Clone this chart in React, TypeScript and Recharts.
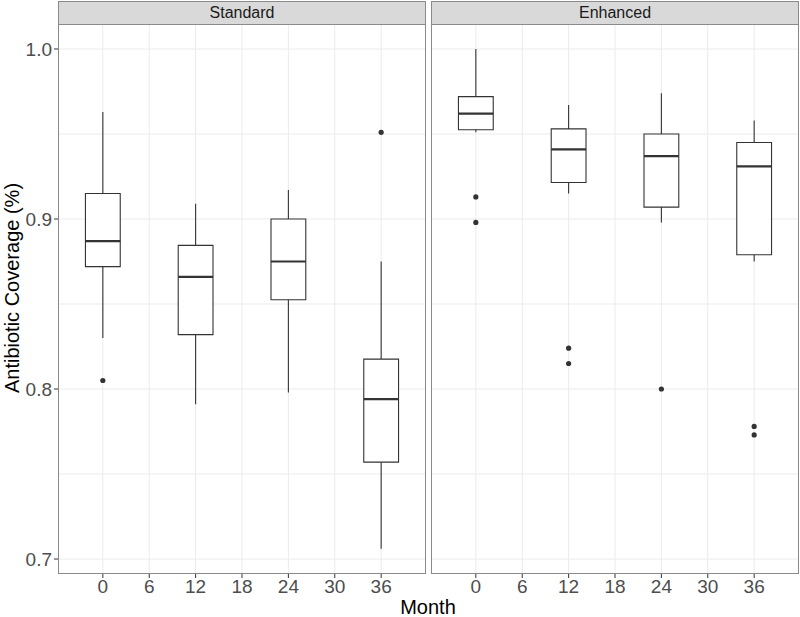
import React from 'react';
import {
  ComposedChart,
  Scatter,
  XAxis,
  YAxis,
  CartesianGrid,
  ReferenceArea,
  ReferenceLine,
} from 'recharts';

// months where boxes sit, and axis ticks
const months = [0, 12, 24, 36];
const monthTicks = [0, 6, 12, 18, 24, 30, 36];
const coverageTicks = [0.7, 0.8, 0.9, 1.0];
const coverageGrid = [0.7, 0.75, 0.8, 0.85, 0.9, 0.95, 1.0];

// Standard arm: whisker ends, quartiles, median
const standardLow = [0.830, 0.791, 0.798, 0.706];
const standardQ1 = [0.872, 0.832, 0.8525, 0.757];
const standardMedian = [0.887, 0.866, 0.875, 0.794];
const standardQ3 = [0.915, 0.8845, 0.9, 0.8176];
const standardHigh = [0.963, 0.909, 0.917, 0.875];
const standardOutliers: [number, number][] = [
  [0, 0.805],
  [36, 0.951],
];

// Enhanced arm
const enhancedLow = [0.951, 0.915, 0.898, 0.875];
const enhancedQ1 = [0.9525, 0.9215, 0.907, 0.879];
const enhancedMedian = [0.962, 0.941, 0.937, 0.931];
const enhancedQ3 = [0.972, 0.953, 0.95, 0.945];
const enhancedHigh = [1.0, 0.967, 0.974, 0.958];
const enhancedOutliers: [number, number][] = [
  [0, 0.913],
  [0, 0.898],
  [12, 0.824],
  [12, 0.815],
  [24, 0.8],
  [36, 0.778],
  [36, 0.773],
];

const FONT = '"Liberation Sans", Arial, Helvetica, sans-serif';
const INK = '#333333';
const BOX_HALF = 2.25;
const X_DOMAIN: [number, number] = [-5.8, 41.8];
const Y_DOMAIN: [number, number] = [0.6912, 1.0147];

const PLOT_TOP = 24;
const PLOT_H = 550;

type PanelProps = {
  title: string;
  left: number;
  showY: boolean;
  low: number[];
  q1: number[];
  median: number[];
  q3: number[];
  high: number[];
  outliers: [number, number][];
};

const Panel = ({ title, left, showY, low, q1, median, q3, high, outliers }: PanelProps) => {
  const yW = showY ? 58 : 0;
  const plotW = 368;
  const width = yW + plotW + 1;
  const pts = outliers.map(([month, value]) => ({ month, value }));

  return (
    <div style={{ position: 'absolute', left, top: 0, width, height: 617 }}>
      <ComposedChart
        width={width}
        height={617}
        data={pts}
        margin={{ top: PLOT_TOP, right: 1, bottom: 0, left: 0 }}
      >
        <CartesianGrid
          stroke="#ebebeb"
          strokeWidth={1}
          horizontalValues={coverageGrid}
          verticalValues={monthTicks}
        />
        <XAxis
          type="number"
          dataKey="month"
          domain={X_DOMAIN}
          ticks={monthTicks}
          allowDataOverflow
          height={617 - PLOT_TOP - PLOT_H}
          axisLine={false}
          tickSize={4}
          tickMargin={2}
          tickLine={{ stroke: INK }}
          tick={{ fill: '#4d4d4d', fontSize: 19, fontFamily: FONT }}
        />
        <YAxis
          type="number"
          domain={Y_DOMAIN}
          ticks={coverageTicks}
          allowDataOverflow
          hide={!showY}
          width={yW}
          axisLine={false}
          tickSize={4}
          tickMargin={2}
          tickLine={{ stroke: INK }}
          tickFormatter={(v: number) => v.toFixed(1)}
          tick={{ fill: '#4d4d4d', fontSize: 19, fontFamily: FONT }}
        />
        {months.map((m, i) => (
          <ReferenceLine
            key={`wu${m}`}
            segment={[
              { x: m, y: q3[i] },
              { x: m, y: high[i] },
            ]}
            stroke={INK}
            strokeWidth={1.1}
          />
        ))}
        {months.map((m, i) => (
          <ReferenceLine
            key={`wl${m}`}
            segment={[
              { x: m, y: low[i] },
              { x: m, y: q1[i] },
            ]}
            stroke={INK}
            strokeWidth={1.1}
          />
        ))}
        {months.map((m, i) => (
          <ReferenceArea
            key={`b${m}`}
            x1={m - BOX_HALF}
            x2={m + BOX_HALF}
            y1={q1[i]}
            y2={q3[i]}
            fill="#ffffff"
            fillOpacity={1}
            stroke={INK}
            strokeWidth={1.1}
          />
        ))}
        {months.map((m, i) => (
          <ReferenceLine
            key={`m${m}`}
            segment={[
              { x: m - BOX_HALF, y: median[i] },
              { x: m + BOX_HALF, y: median[i] },
            ]}
            stroke={INK}
            strokeWidth={2.2}
          />
        ))}
        <Scatter
          dataKey="value"
          isAnimationActive={false}
          shape={(p: any) => <circle cx={p.cx} cy={p.cy} r={2.6} fill={INK} />}
        />
      </ComposedChart>
      <div
        style={{
          position: 'absolute',
          left: yW,
          top: PLOT_TOP,
          width: plotW,
          height: PLOT_H,
          border: '1px solid #8a8a8a',
          boxSizing: 'border-box',
          pointerEvents: 'none',
        }}
      />
      <div
        style={{
          position: 'absolute',
          left: yW,
          top: 1,
          width: plotW,
          height: PLOT_TOP,
          background: '#d9d9d9',
          border: '1px solid #8a8a8a',
          boxSizing: 'border-box',
          fontFamily: FONT,
          fontSize: 16,
          color: '#1a1a1a',
          display: 'flex',
          alignItems: 'center',
          justifyContent: 'center',
        }}
      >
        {title}
      </div>
    </div>
  );
};

export default function App() {
  return (
    <div
      style={{
        position: 'absolute',
        left: 0,
        top: 0,
        width: 800,
        height: 617,
        background: '#ffffff',
        fontFamily: FONT,
      }}
    >
      <Panel
        title="Standard"
        left={0}
        showY
        low={standardLow}
        q1={standardQ1}
        median={standardMedian}
        q3={standardQ3}
        high={standardHigh}
        outliers={standardOutliers}
      />
      <Panel
        title="Enhanced"
        left={431}
        showY={false}
        low={enhancedLow}
        q1={enhancedQ1}
        median={enhancedMedian}
        q3={enhancedQ3}
        high={enhancedHigh}
        outliers={enhancedOutliers}
      />
      <div
        style={{
          position: 'absolute',
          left: 12,
          top: 288,
          transform: 'translate(-50%, -50%) rotate(-90deg)',
          whiteSpace: 'nowrap',
          fontSize: 20,
          color: '#000',
        }}
      >
        Antibiotic Coverage (%)
      </div>
      <div
        style={{
          position: 'absolute',
          left: 428,
          top: 607,
          transform: 'translate(-50%, -50%)',
          whiteSpace: 'nowrap',
          fontSize: 20,
          color: '#000',
        }}
      >
        Month
      </div>
    </div>
  );
}
